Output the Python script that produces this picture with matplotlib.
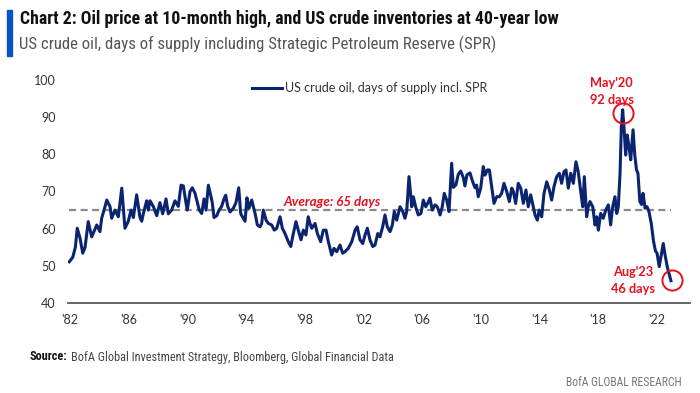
import numpy as np
import matplotlib
matplotlib.use("Agg")
import matplotlib.pyplot as plt
from matplotlib import font_manager as fm

# ---------------- data ----------------
years = [1982.00, 1982.24, 1982.42, 1982.55, 1982.74, 1982.93, 1983.09, 1983.31, 1983.55, 1983.90,
         1984.12, 1984.24, 1984.47, 1984.59, 1984.82, 1984.93, 1985.16, 1985.39, 1985.63, 1985.85,
         1986.08, 1986.27, 1986.43, 1986.66, 1986.89, 1987.01, 1987.12, 1987.35, 1987.47, 1987.58,
         1987.81, 1988.05, 1988.27, 1988.46, 1988.69, 1988.85, 1989.08, 1989.31, 1989.54, 1989.73,
         1989.89, 1990.07, 1990.16, 1990.35, 1990.51, 1990.70, 1990.86, 1990.99, 1991.16, 1991.32,
         1991.46, 1991.62, 1991.78, 1991.89, 1992.01, 1992.20, 1992.36, 1992.54, 1992.70, 1992.82,
         1992.96, 1993.12, 1993.35, 1993.53, 1993.72, 1993.86, 1994.04, 1994.16, 1994.29, 1994.43,
         1994.62, 1994.85, 1995.01, 1995.19, 1995.31, 1995.42, 1995.61, 1995.77, 1996.00, 1996.18,
         1996.35, 1996.58, 1996.74, 1996.92, 1997.15, 1997.32, 1997.50, 1997.68, 1997.84, 1998.03,
         1998.19, 1998.37, 1998.53, 1998.65, 1998.77, 1999.00, 1999.16, 1999.39, 1999.57, 1999.76,
         1999.92, 2000.15, 2000.31, 2000.50, 2000.73, 2000.91, 2001.07, 2001.30, 2001.54, 2001.77,
         2001.92, 2002.11, 2002.30, 2002.46, 2002.62, 2002.80, 2002.99, 2003.15, 2003.34, 2003.49,
         2003.68, 2003.84, 2004.00, 2004.19, 2004.35, 2004.48, 2004.65, 2004.88, 2005.07, 2005.22,
         2005.34, 2005.50, 2005.69, 2005.80, 2005.96, 2006.14, 2006.33, 2006.49, 2006.66, 2006.79,
         2006.95, 2007.11, 2007.30, 2007.46, 2007.65, 2007.80, 2007.94, 2008.11, 2008.27, 2008.45,
         2008.57, 2008.75, 2008.91, 2009.08, 2009.26, 2009.37, 2009.51, 2009.72, 2009.89, 2010.07,
         2010.18, 2010.29, 2010.46, 2010.64, 2010.76, 2010.92, 2011.06, 2011.22, 2011.38, 2011.57,
         2011.75, 2011.91, 2012.07, 2012.26, 2012.44, 2012.61, 2012.72, 2012.88, 2013.06, 2013.23,
         2013.41, 2013.59, 2013.75, 2013.92, 2014.10, 2014.22, 2014.38, 2014.51, 2014.68, 2014.84,
         2015.03, 2015.21, 2015.37, 2015.53, 2015.72, 2015.90, 2016.06, 2016.22, 2016.36, 2016.52,
         2016.69, 2016.87, 2017.05, 2017.21, 2017.38, 2017.52, 2017.63, 2017.79, 2017.90, 2018.02,
         2018.21, 2018.37, 2018.49, 2018.60, 2018.76, 2018.94, 2019.11, 2019.29, 2019.45, 2019.59,
         2019.75, 2019.87, 2019.98, 2020.10, 2020.19, 2020.28, 2020.37, 2020.49, 2020.60, 2020.72,
         2020.84, 2021.00, 2021.12, 2021.24, 2021.34, 2021.47, 2021.59, 2021.69, 2021.83, 2021.97,
         2022.10, 2022.26, 2022.42, 2022.55, 2022.66, 2022.81, 2022.95, 2023.09, 2023.21, 2023.38,
         2023.52, 2023.62]

days_of_supply = [51.1, 52.3, 55.0, 60.1, 57.5, 53.4, 55.0, 61.9, 57.8, 61.0,
                  59.2, 62.8, 65.9, 67.7, 65.9, 62.8, 65.0, 63.2, 70.9, 60.1,
                  62.0, 65.0, 63.0, 69.1, 63.0, 62.0, 64.0, 67.5, 65.0, 67.5,
                  66.0, 63.5, 67.0, 64.0, 68.0, 64.0, 65.0, 67.5, 66.0, 71.7,
                  71.5, 67.0, 65.0, 70.0, 71.0, 69.5, 67.0, 65.0, 64.1, 68.0,
                  65.0, 71.7, 69.0, 67.0, 63.0, 63.5, 65.0, 66.0, 68.0, 69.0,
                  66.0, 64.5, 65.5, 67.0, 71.0, 64.0, 62.8, 62.0, 68.3, 65.5,
                  67.7, 64.1, 61.0, 60.5, 61.4, 65.0, 62.3, 61.4, 61.0, 59.6,
                  60.1, 63.2, 60.1, 58.7, 56.5, 55.2, 58.7, 61.9, 59.6, 57.0,
                  59.6, 58.3, 63.2, 61.4, 60.1, 61.4, 58.7, 56.5, 59.6, 59.6,
                  56.5, 52.9, 54.7, 53.8, 55.6, 53.4, 53.8, 54.7, 56.5, 59.6,
                  60.5, 57.0, 56.0, 58.3, 60.1, 57.0, 55.2, 55.6, 58.7, 57.8,
                  60.5, 63.7, 60.5, 59.2, 61.0, 64.6, 62.3, 65.9, 64.6, 62.8,
                  64.6, 74.0, 65.9, 68.6, 65.9, 63.7, 64.1, 67.7, 65.9, 66.8,
                  68.2, 65.0, 66.4, 65.9, 63.7, 65.9, 69.5, 67.7, 64.6, 77.6,
                  71.1, 71.8, 74.6, 75.5, 73.7, 71.5, 74.5, 75.0, 72.8, 71.0,
                  71.7, 68.6, 70.9, 76.7, 74.4, 75.8, 75.8, 71.3, 66.8, 68.6,
                  68.6, 69.5, 72.2, 70.0, 67.3, 70.9, 70.0, 66.8, 72.2, 70.9,
                  66.8, 70.4, 65.9, 69.1, 65.9, 63.7, 62.3, 65.0, 63.2, 69.5,
                  72.6, 70.4, 67.7, 71.3, 74.0, 74.9, 72.2, 75.3, 75.8, 70.9,
                  74.9, 72.2, 78.0, 75.3, 70.0, 65.9, 74.0, 63.2, 65.9, 67.3,
                  65.9, 61.0, 63.2, 59.6, 64.1, 62.8, 65.0, 66.4, 61.0, 65.9,
                  68.6, 64.1, 65.9, 74.9, 87.4, 92.0, 87.4, 79.8, 85.2, 82.1,
                  78.5, 86.6, 79.8, 75.8, 74.9, 67.3, 66.5, 69.5, 65.5, 65.9,
                  64.6, 61.4, 56.5, 54.0, 53.4, 49.8, 52.9, 56.0, 53.0, 49.5,
                  47.5, 46.0]

average_days = 65
x_tick_labels = ["'82", "'86", "'90", "'94", "'98", "'02", "'06", "'10", "'14", "'18", "'22"]
y_ticks = [40, 50, 60, 70, 80, 90, 100]

series_label = "US crude oil, days of supply incl. SPR"
title = "Chart 2: Oil price at 10-month high, and US crude inventories at 40-year low"
subtitle = "US crude oil, days of supply including Strategic Petroleum Reserve (SPR)"
source_head = "Source:"
source_body = "BofA Global Investment Strategy, Bloomberg, Global Financial Data"
brand = "BofA GLOBAL RESEARCH"
peak_label = "May'20\n92 days"
last_label = "Aug'23\n46 days"

# ---------------- style ----------------
NAVY = "#0b2470"
RED = "#e3101e"
GREY_DASH = "#8a8a8a"
BAR_BLUE = "#0a52c8"
TXT = "#333333"

names = {f.name for f in fm.fontManager.ttflist}
BODY = "Lato" if "Lato" in names else "DejaVu Sans"


def cond_props(weight="normal"):
    for nm in ["Liberation Sans Narrow", "Roboto Condensed", "Open Sans Condensed", "Noto Sans Condensed"]:
        if nm in names:
            return fm.FontProperties(family=nm, weight=weight)
    return fm.FontProperties(family="DejaVu Sans", stretch="condensed", weight=weight)


W, H = 700, 393
fig = plt.figure(figsize=(W / 100, H / 100), dpi=100)
fig.patch.set_facecolor("white")
renderer = fig.canvas.get_renderer()


def width_px(t):
    return t.get_window_extent(renderer=renderer).width


def fit_width(texts, target):
    total = sum(width_px(t) for t in texts)
    for t in texts:
        t.set_fontsize(t.get_fontsize() * target / total)


ax_left, ax_right, ax_top, ax_bottom = 68, 690, 80, 303
ax = fig.add_axes([ax_left / W, 1 - ax_bottom / H, (ax_right - ax_left) / W, (ax_bottom - ax_top) / H])

x = np.array(years)
y = np.array(days_of_supply)

ax.hlines(average_days, x[0], x[-1], colors=GREY_DASH, linestyles=(0, (3.2, 2.0)), lw=1.6, zorder=2)
ax.plot(x, y, color=NAVY, lw=2.2, solid_joinstyle="round", zorder=3, label=series_label)

ax.set_ylim(40, 100)
ax.set_xlim(1981.91, 2024.94)
ax.set_yticks(y_ticks)
ax.set_yticklabels([str(v) for v in y_ticks], fontfamily=BODY, fontsize=9, color=TXT)
tick_pos = np.linspace(1982.05, 2022.65, len(x_tick_labels))
ax.set_xticks(tick_pos)
ax.set_xticklabels(x_tick_labels, fontfamily=BODY, fontsize=9, color=TXT)
ax.tick_params(axis="both", length=0)
ax.tick_params(axis="y", pad=9)
ax.tick_params(axis="x", pad=8)
for s in ["top", "right", "left"]:
    ax.spines[s].set_visible(False)
ax.spines["bottom"].set_color("#595959")
ax.spines["bottom"].set_linewidth(1.3)
ax.patch.set_alpha(0)

leg = ax.legend(loc="center", bbox_to_anchor=(0.4848, 0.964), frameon=False,
                handlelength=2.4, handletextpad=0.2, prop={"family": BODY, "size": 9})
for t in leg.get_texts():
    t.set_color(TXT)

# average label
ax.text(2000.17, 67.2, f"Average: {average_days} days", color=RED, fontfamily=BODY,
        fontsize=9.6, fontweight="bold", fontstyle="italic", ha="center", va="center")

# peak & last annotations
i_peak = int(np.argmax(y))
ax.plot([x[i_peak]], [y[i_peak] - 0.8], marker="o", ms=14.5, mfc="none", mec=RED, mew=1.4, zorder=4)
ax.plot([x[-1] + 0.1], [y[-1] + 0.2], marker="o", ms=14.5, mfc="none", mec=RED, mew=1.4, zorder=4, clip_on=False)
ax.text(x[i_peak] - 0.75, 96.9, peak_label, color=RED, fontfamily=BODY, fontsize=9.2,
        fontweight="bold", ha="center", va="center", linespacing=1.45)
ax.text(x[-1] - 2.6, 46.05, last_label, color=RED, fontfamily=BODY, fontsize=9.2,
        fontweight="bold", ha="center", va="center", linespacing=1.45)

# header
fig.patches.append(plt.Rectangle((7 / W, 1 - 56 / H), 5 / W, 46 / H, transform=fig.transFigure,
                                 color=BAR_BLUE, zorder=5))
t_title = fig.text(20 / W, 1 - 19 / H, title, fontproperties=cond_props("bold"),
                   color="#111111", va="center", ha="left")
t_title.set_fontsize(12)
t_sub = fig.text(19 / W, 1 - 44 / H, subtitle, fontproperties=cond_props("normal"),
                 color="#555555", va="center", ha="left")
t_sub.set_fontsize(11)

# footer
t_src_b = fig.text(30 / W, 1 - 357 / H, source_head, fontproperties=cond_props("bold"),
                   color="#111111", va="center", ha="left")
t_src_b.set_fontsize(9)
t_src = fig.text(70 / W, 1 - 357 / H, source_body, fontproperties=cond_props("normal"),
                 color="#444444", va="center", ha="left")
t_src.set_fontsize(9)
t_brand = fig.text(682 / W, 1 - 382 / H, brand, fontproperties=cond_props("normal"),
                   color="#777777", va="center", ha="right")
t_brand.set_fontsize(9)

# fit text widths to the reference extents (pixels)
fit_width([t_title], 540)
fit_width([t_sub], 476)
fit_width([t_src_b, t_src], 360)
fit_width([t_brand], 116)
bb = t_src_b.get_window_extent(renderer=renderer)
t_src.set_x((bb.x1 + 3) / W)

fig.savefig("out.png", dpi=100, facecolor="white")
